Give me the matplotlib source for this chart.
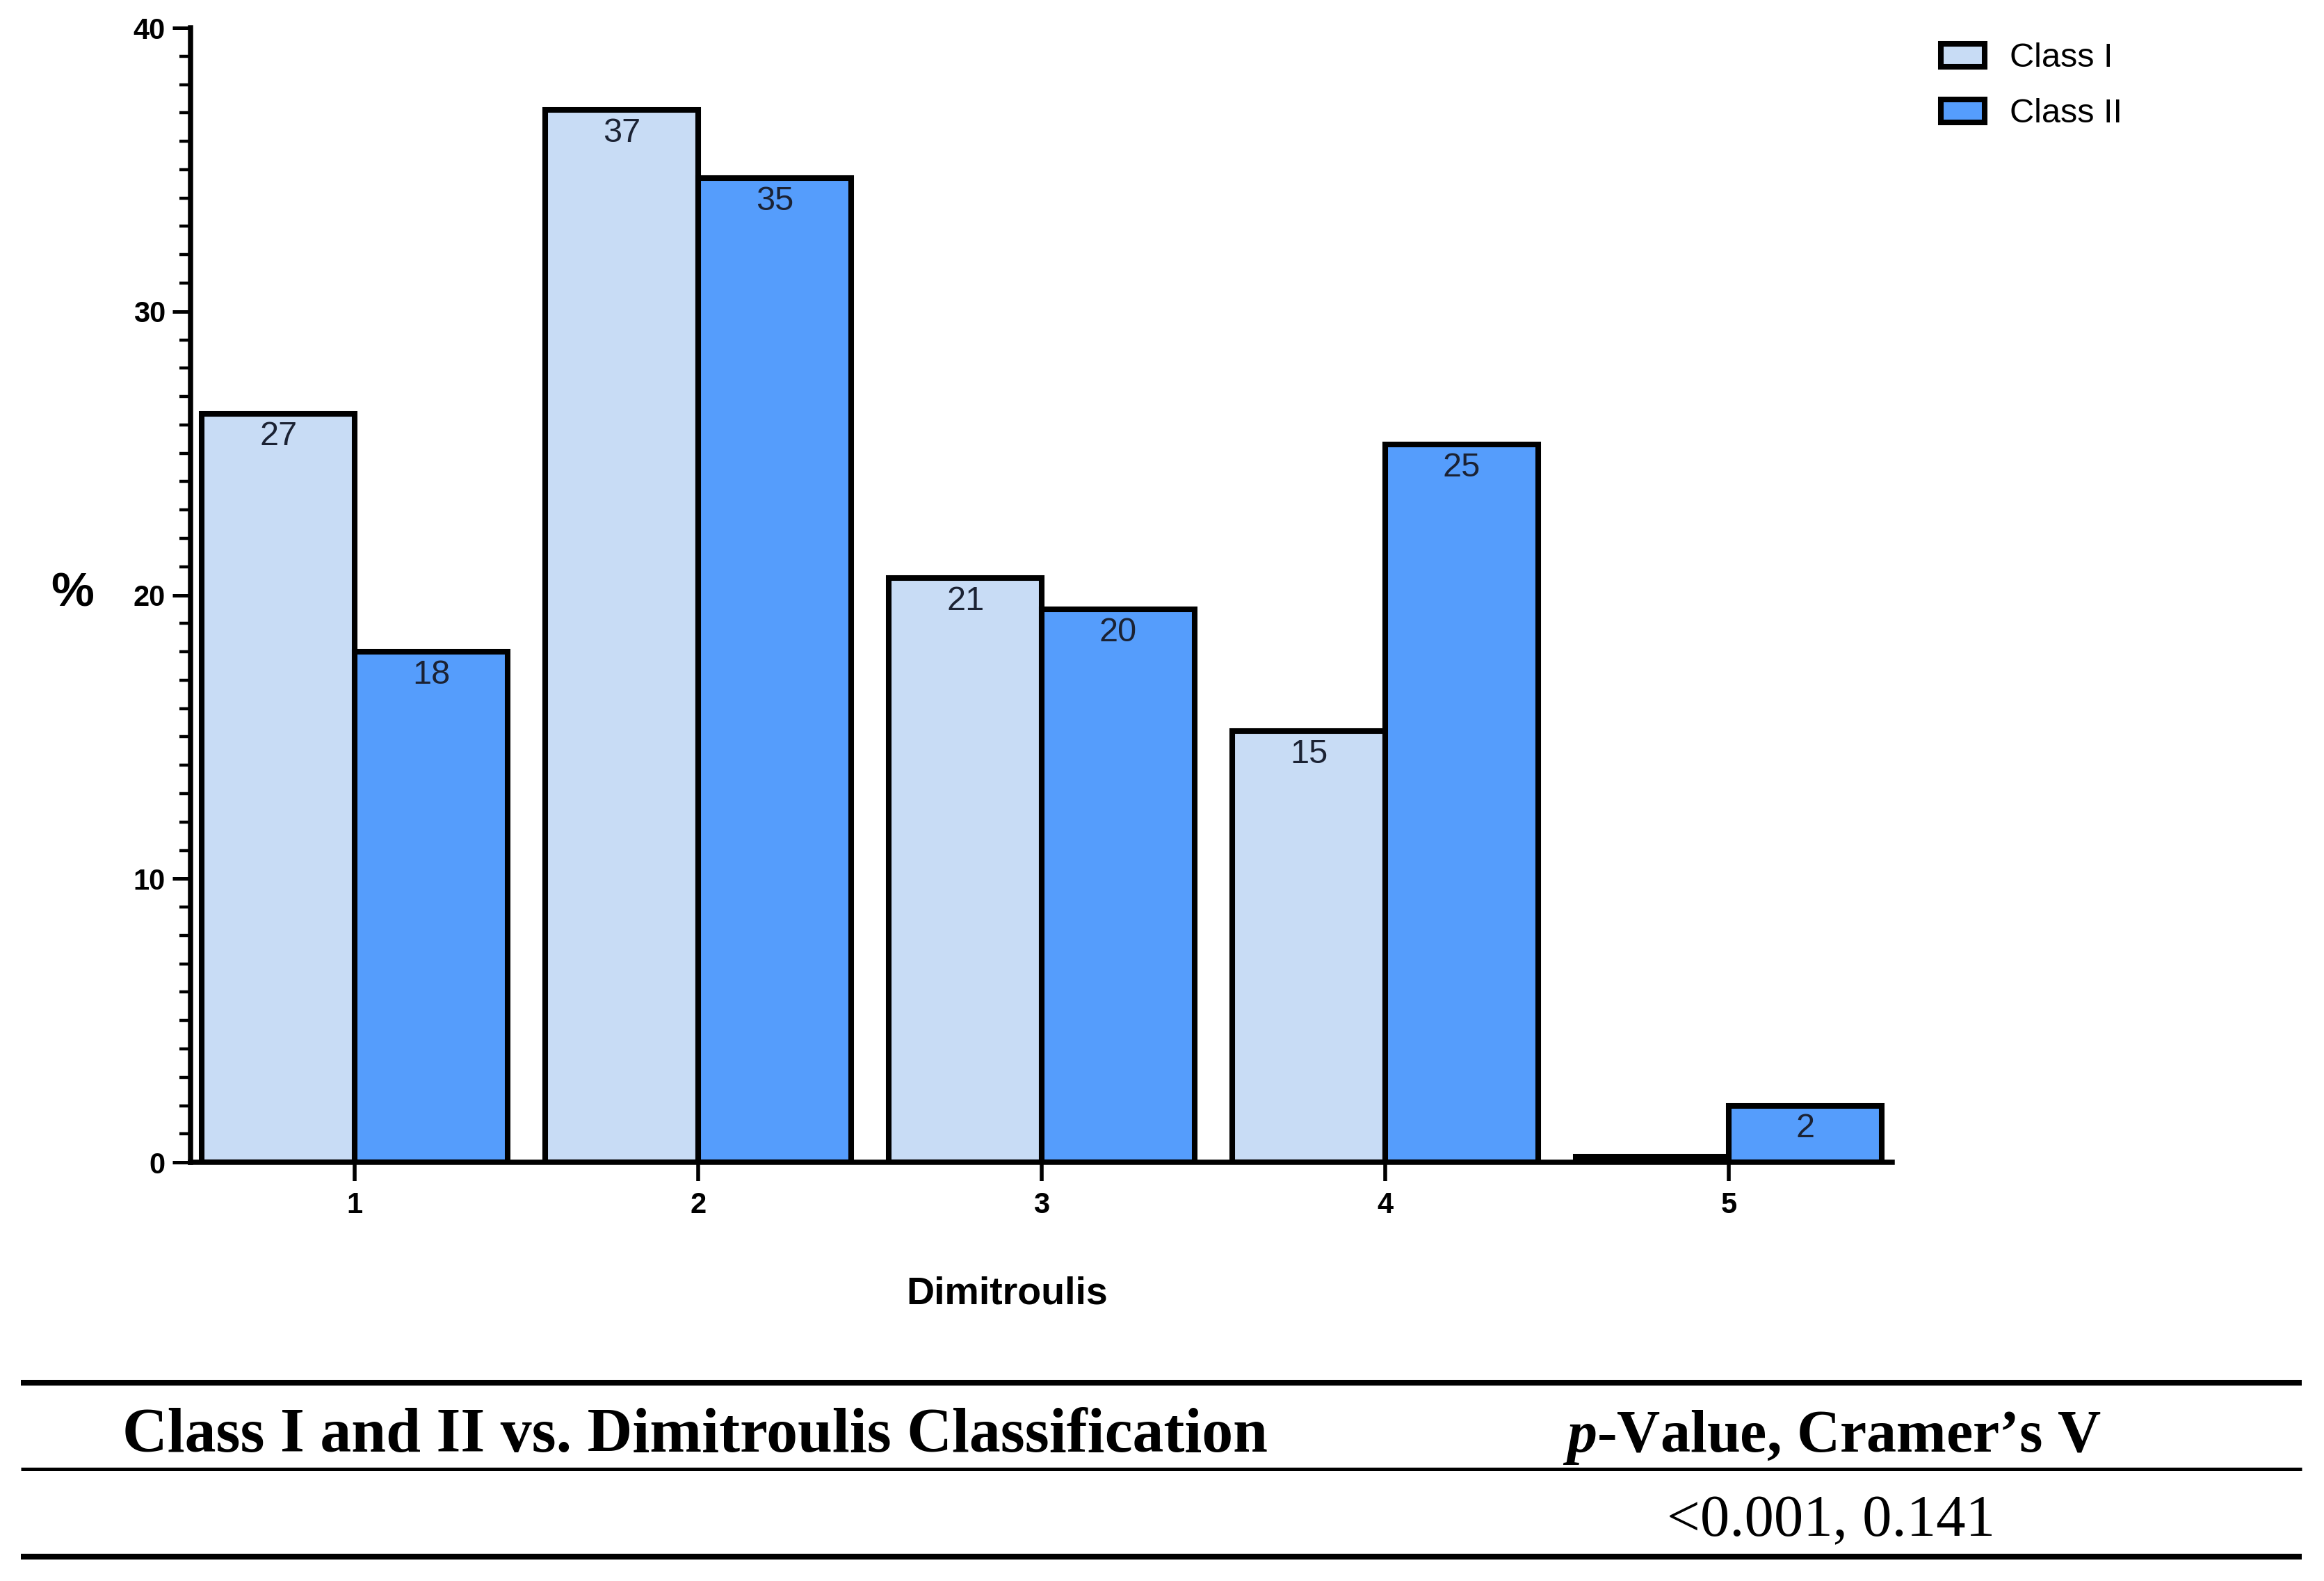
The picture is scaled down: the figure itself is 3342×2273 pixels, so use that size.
import matplotlib.pyplot as plt
import numpy as np
from matplotlib.lines import Line2D

# datos (porcentaje por grado de Dimitroulis)
categorias = [1, 2, 3, 4, 5]
clase_1 = [26.4, 37.1, 20.6, 15.2, 0.2]
clase_2 = [18.0, 34.7, 19.5, 25.3, 2.0]
etiquetas_1 = ['27', '37', '21', '15', '']
etiquetas_2 = ['18', '35', '20', '25', '2']
series = ['Class I', 'Class II']
ticks_y = [0, 10, 20, 30, 40]
tabla_encabezado = ['Class I and II vs. Dimitroulis Classification', 'p-Value, Cramer\u2019s V']
tabla_valor = '<0.001, 0.141'

plt.rcParams['font.family'] = ['Liberation Sans', 'DejaVu Sans']
plt.rcParams['mathtext.fontset'] = 'custom'
plt.rcParams['mathtext.it'] = 'Liberation Serif:italic:bold'
plt.rcParams['mathtext.rm'] = 'Liberation Serif:bold'

fig = plt.figure(figsize=(16.71, 11.365), dpi=200)
ax = fig.add_axes([0.082, 0.2648, 0.7322, 0.7176])

x = np.array(categorias)
ancho = 0.445
b1 = ax.bar(x - ancho / 2, clase_1, ancho, color='#C8DCF5', edgecolor='black',
            linewidth=2.9, label=series[0], joinstyle='miter')
b2 = ax.bar(x + ancho / 2, clase_2, ancho, color='#559DFC', edgecolor='black',
            linewidth=2.9, label=series[1], joinstyle='miter')

# numeros dentro de las barras
for pos, vals, etiq in [(x - ancho / 2, clase_1, etiquetas_1), (x + ancho / 2, clase_2, etiquetas_2)]:
    for xi, v, t in zip(pos, vals, etiq):
        ax.annotate(t, (xi, v), xytext=(0, -12), textcoords='offset points',
                    ha='center', va='center', fontsize=17.5, color='#1B2233')

ax.set_xlim(0.522, 5.476)
ax.set_ylim(0, 40)
ax.spines[['top', 'right']].set_visible(False)
for s in ['left', 'bottom']:
    ax.spines[s].set_linewidth(2.7)
ax.set_yticks(ticks_y)
ax.set_yticks(np.arange(0, 41, 1), minor=True)
ax.set_xticks(x)
ax.tick_params(axis='y', which='major', length=9.4, width=1.8, pad=3.6, labelsize=15)
ax.tick_params(axis='y', which='minor', length=5.8, width=1.6)
ax.tick_params(axis='x', which='major', length=9.7, width=2.0, pad=5.4, labelsize=15)
ax.tick_params(axis='x', which='minor', bottom=False)
for l in ax.get_xticklabels() + ax.get_yticklabels():
    l.set_fontweight('bold')

fig.text(0.0311, 0.6164, '%', ha='center', va='baseline', fontsize=25, fontweight='bold')
fig.text(0.4333, 0.1751, 'Dimitroulis', ha='center', va='baseline', fontsize=20, fontweight='bold')

fig.legend(handles=[b1, b2], labels=series, loc='upper left', bbox_to_anchor=(0.835, 0.973),
           frameon=False, fontsize=17.5, handlelength=1.3, handleheight=0.67,
           handletextpad=0.75, labelspacing=0.72, borderpad=0, borderaxespad=0)

# tabla de abajo
for y, lw in [(0.1254, 2.9), (0.0708, 1.8), (0.0154, 3.0)]:
    fig.add_artist(Line2D([0.009, 0.9904], [y, y], transform=fig.transFigure,
                          color='black', linewidth=lw, solid_capstyle='butt'))

fuente_tabla = ['Liberation Serif', 'DejaVu Serif']
fig.text(0.2992, 0.0818, tabla_encabezado[0], ha='center', va='baseline', fontsize=32.3,
         fontweight='bold', family=fuente_tabla)
fig.text(0.7882, 0.0818, r'$\mathit{p}$' + tabla_encabezado[1][1:], ha='center', va='baseline',
         fontsize=31, fontweight='bold', family=fuente_tabla)
fig.text(0.7879, 0.0286, tabla_valor, ha='center', va='baseline', fontsize=30.5,
         family=fuente_tabla)

fig.savefig('out.png', dpi=200)
